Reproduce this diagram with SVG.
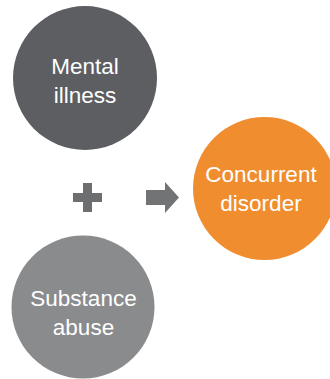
<svg xmlns="http://www.w3.org/2000/svg" width="330" height="379" viewBox="0 0 330 379">
<style>
.lbl{font-family:"Liberation Sans",Arial,sans-serif;font-size:22.5px;fill:#ffffff;text-anchor:middle}
</style>
<rect width="330" height="379" fill="#ffffff"/>
<g id="mental-illness">
<circle cx="85" cy="78" r="72" fill="#5d5e62"/>
<text class="lbl" x="85" y="74">Mental</text>
<text class="lbl" x="85" y="103">illness</text>
</g>
<g id="substance-abuse">
<circle cx="83" cy="307" r="71.5" fill="#8a8b8d"/>
<text class="lbl" x="83.5" y="306">Substance</text>
<text class="lbl" x="83.5" y="335">abuse</text>
</g>
<g id="concurrent-disorder">
<circle cx="264.5" cy="188.5" r="71.5" fill="#f08d2f"/>
<text class="lbl" x="261" y="182">Concurrent</text>
<text class="lbl" x="261" y="211">disorder</text>
</g>
<g id="connectors">
<path id="plus" d="M83 183h9v10h10v9h-10v10h-9v-10h-10v-9h10z" fill="#6d6e70"/>
<path id="arrow" d="M146 190h19v-8l14 15.5-14 15.5v-8h-19z" fill="#727375"/>
</g>
</svg>
